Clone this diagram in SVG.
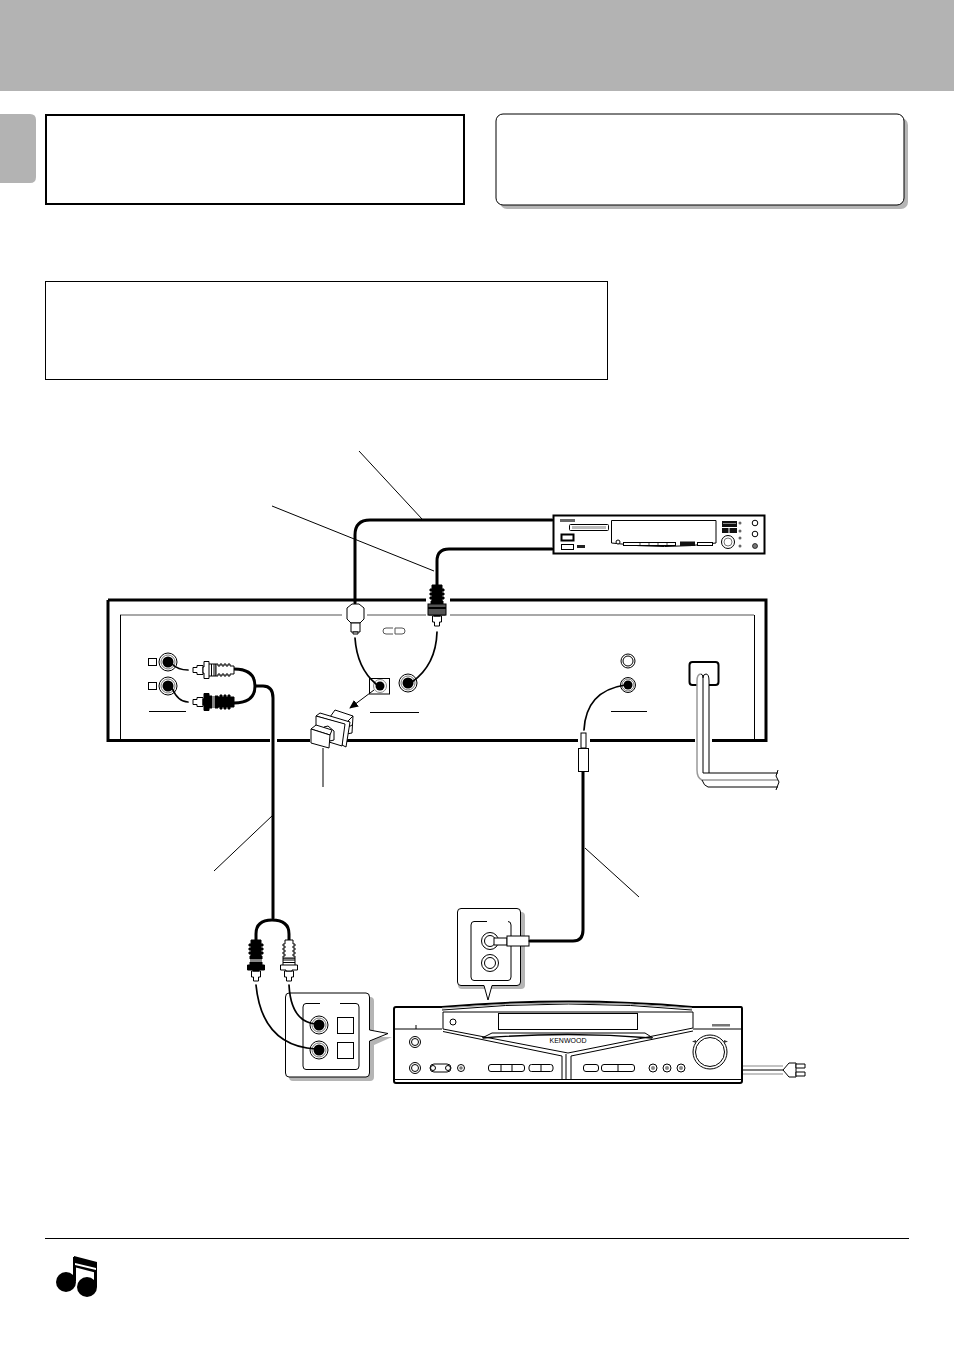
<svg xmlns="http://www.w3.org/2000/svg" xmlns:xlink="http://www.w3.org/1999/xlink" width="954" height="1350" viewBox="0 0 954 1350">
<style>
.k{fill:none;stroke:#000}
.w{fill:#fff;stroke:#000;stroke-width:1}
.b{fill:#000;stroke:#000;stroke-width:1}
.t1{stroke-width:1}
.t2{stroke-width:2}
.t3{stroke-width:3}
.cable{fill:none;stroke:#000;stroke-width:3;stroke-linecap:round}
.thin{fill:none;stroke:#000;stroke-width:1.700;stroke-linecap:round}
.lead{fill:none;stroke:#000;stroke-width:1}
.sh{fill:#b5b5b5}
.ctl{fill:#fff;stroke:#000;stroke-width:1}
</style>
<defs>
<g id="plugW">
<path class="w" d="M1,-2.500H5V-4.500H11V4.500H5V2.500H1Z"/>
<path class="w" d="M11,-3H12V-8.500H17V-6H24V6H17V8.500H12V3H11Z"/>
<path class="k t1" d="M17,-6V6M19.500,-6V6M22,-6V6"/>
<path class="w" d="M24,-6H26V-4H28V-6H30V-4H32V-6H34V-4H36V-6H38V-4H42V4H38V6H36V4H34V6H32V4H30V6H28V4H26V6H24Z"/>
</g>
<g id="plugB">
<path class="w" d="M1,-2.500H5V-4.500H11V4.500H5V2.500H1Z"/>
<path class="b" d="M11,-3H12V-8.500H17V-6H20V6H17V8.500H12V3H11Z"/>
<path d="M21,-6V6" stroke="#888" stroke-width="2"/>
<path class="b" d="M23,-6H26V-5H28V-7H30V-5H32V-7H34V-5H36V-7H38V-5H42V5H38V7H36V5H34V7H32V5H30V7H28V5H26V6H23Z"/>
</g>
<g id="jackB"><circle r="9" class="ctl"/><circle r="7" fill="none" stroke="#777" stroke-width="1"/><circle r="5.500" fill="#000"/></g>
<g id="jackS"><circle r="7.500" class="ctl"/><circle r="6" fill="none" stroke="#777" stroke-width="1"/><circle r="4.500" fill="#000"/></g>
<marker id="ah" markerWidth="9" markerHeight="8" refX="8" refY="4" orient="auto" markerUnits="userSpaceOnUse"><path d="M0,0L9,4L0,8Z" fill="#000"/></marker>
</defs>

<g id="header"><rect x="0" y="0" width="954" height="91" fill="#b3b3b3"/><path d="M0,114H30Q36,114 36,120V177Q36,183 30,183H0Z" fill="#b3b3b3"/></g>
<g id="box-1"><rect x="46" y="115" width="418" height="89" fill="#fff" class="k t2"/></g>
<g id="box-2"><rect x="500" y="118" width="408" height="91" rx="7" class="sh"/><rect x="496" y="114" width="408" height="91" rx="7" class="w"/></g>
<g id="box-3"><rect x="45.500" y="281.500" width="562" height="98" fill="#fff" class="k t1"/></g>

<g id="main-unit">
<path class="k t3" d="M108,600H766V740.500H712M695,740.500H590M578,740.500H346M310,740.500H277M270,740.500H108V600"/>
<path fill="none" stroke="#a8a8a8" stroke-width="2" d="M120,615H342M367,615H426M450,615H754"/>
<path class="k t1" d="M120.500,615V739M754.500,615V739"/>
<rect x="148.500" y="658.500" width="8" height="7" class="w"/><rect x="148.500" y="682.500" width="8" height="7" class="w"/>
<use xlink:href="#jackB" x="168" y="662"/><use xlink:href="#jackB" x="168" y="686"/>
<path fill="none" stroke="#555" stroke-width="1" d="M393,628H386Q383,628 383,631Q383,634 386,634H393M395,628H402Q405,628 405,631Q405,634 402,634H395Z"/>
<path class="k t1" d="M149,711.500H186M370,712.500H419M611,711.500H647"/>
<rect x="369.500" y="678.500" width="20" height="15.500" class="w"/>
<circle cx="380" cy="686" r="6.500" fill="none" stroke="#888"/><circle cx="380" cy="686" r="4.500"/>
<use xlink:href="#jackB" x="408" y="683"/>
<circle cx="628" cy="661" r="7" class="ctl"/><circle cx="628" cy="661" r="5" class="ctl"/>
<use xlink:href="#jackS" x="628" y="685"/>
<rect x="689.500" y="662" width="29" height="23" rx="3" fill="#fff" class="k t2"/>
</g>

<g id="power-cord">
<path d="M697,790V681Q697,674 701,674Q703,674 703,677Q703,674 706,674Q709,674 709,681V773H778V788H702Q697,786 697,775Z" fill="#fff"/>
<path fill="none" stroke="#999" stroke-width="1.500" d="M697,770V681Q697,674 701,674M697,770Q697,778 702,780H778"/>
<path class="k t1" d="M703,678V773H778M709,681Q709,674 706,674Q703,674 703,678M709,681V773M701,674Q703,674 703,678M702,780Q704,786 708,787H778M778,770L776,776L779,782L776,790"/>
</g>

<g id="md-deck">
<rect x="553.500" y="515.500" width="211" height="38" fill="#fff" class="k t2"/>
<rect x="560" y="519" width="15" height="3" fill="#666"/>
<rect x="569.500" y="524.500" width="39" height="6" rx="1" class="ctl"/><rect x="572" y="526" width="34" height="3" fill="#bbb"/>
<rect x="561.500" y="534.500" width="12" height="6" fill="#fff" class="k t2"/>
<rect x="561.500" y="544.500" width="12" height="5" class="w"/>
<rect x="577" y="545" width="8" height="3" fill="#222"/>
<path class="w" d="M611.500,520.500H716V543Q665,550 611.500,543Z"/>
<circle cx="618" cy="542" r="2" class="w"/>
<rect x="623.500" y="542.500" width="52" height="3" class="w"/><path d="M640,542V546M649,542V546M658,542V546M667,542V546" stroke="#000" stroke-width=".7"/>
<rect x="680" y="541.500" width="15" height="4.500" fill="#111"/><rect x="697.500" y="542.500" width="15" height="3" class="w"/>
<rect x="722" y="521" width="15" height="6" fill="#111"/><rect x="722" y="528" width="15" height="5" fill="#111"/><path d="M729,528V533" stroke="#fff"/><path d="M723,523.500H736" stroke="#888"/>
<circle cx="728" cy="542" r="6.500" class="w"/><circle cx="728" cy="542" r="4" fill="none" stroke="#777"/>
<circle cx="740" cy="523" r="1.500" fill="#666"/><circle cx="740" cy="531" r="1.500" fill="#666"/><circle cx="740" cy="538" r="1.500" fill="#666"/><circle cx="740" cy="546" r="1.500" fill="#666"/>
<circle cx="755" cy="523" r="2.800" class="w"/><circle cx="755" cy="534" r="2.800" class="w"/><circle cx="755" cy="546" r="2.500" fill="#777" stroke="#000" stroke-width=".7"/>
</g>

<g id="receiver">
<path fill="#fff" class="k t2" d="M396,1007H442Q570,996 692,1007H741Q742,1007 742,1009V1081Q742,1083 740,1083H396Q394,1083 394,1081V1009Q394,1007 396,1007Z"/>
<path class="k t1" d="M394,1029H442M693,1029H742M394,1079.500H742M442,1010Q570,998 692,1010"/>
<path fill="none" stroke="#999" stroke-width="1" d="M442,1008Q570,998 692,1008"/>
<path class="k t1" d="M443,1012H693V1028L568,1053L443,1029Z"/>
<path class="k t1" d="M443,1031.500L562,1056V1079M693,1031L571,1056V1079M566,1054V1079M482,1038L492,1033H645L653,1038"/>
<path fill="none" stroke="#000" stroke-width="1.300" d="M483,1038Q568,1031 652,1038"/>
<rect x="498.500" y="1013.500" width="139" height="16" class="w"/>
<circle cx="453" cy="1022" r="3" class="w"/>
<rect x="712" y="1024" width="18" height="2.500" fill="#777"/>
<path class="k t1" d="M416,1025V1029"/>
<text x="568" y="1042.500" text-anchor="middle" font-family="Liberation Sans, Arial, sans-serif" font-size="7" fill="#000">KENWOOD</text>
<circle cx="415" cy="1042" r="5.500" class="ctl"/><circle cx="415" cy="1042" r="3.500" class="ctl"/>
<circle cx="415" cy="1068" r="5.500" class="ctl"/><circle cx="415" cy="1068" r="3.500" class="ctl"/>
<rect x="430" y="1064" width="21" height="8" rx="4" class="ctl"/><circle cx="433" cy="1068" r="2.500" class="ctl"/><circle cx="448" cy="1068" r="2.500" class="ctl"/>
<circle cx="461" cy="1068" r="3.500" class="ctl"/><circle cx="461" cy="1068" r="1.800" fill="#777"/>
<rect x="488.500" y="1064.500" width="36" height="7" rx="2.500" class="ctl"/><path class="k t1" d="M501,1065V1071M512,1065V1071"/>
<rect x="529" y="1064.500" width="24" height="7" rx="2.500" class="ctl"/><path class="k t1" d="M541,1065V1071"/>
<rect x="583.500" y="1064.500" width="15" height="7" rx="2.500" class="ctl"/>
<rect x="601.500" y="1064.500" width="33" height="7" rx="2.500" class="ctl"/><path class="k t1" d="M618,1065V1071"/>
<circle cx="653" cy="1068" r="4" class="ctl"/><circle cx="653" cy="1068" r="2" fill="#888"/>
<circle cx="667" cy="1068" r="4" class="ctl"/><circle cx="667" cy="1068" r="2" fill="#888"/>
<circle cx="681" cy="1068" r="4" class="ctl"/><circle cx="681" cy="1068" r="2" fill="#888"/>
<circle cx="710" cy="1052" r="17" class="ctl"/><circle cx="710" cy="1052" r="14.500" class="ctl"/>
<path d="M696,1040L692,1041.500L696,1043Z M724,1040L728,1041.500L724,1043Z" fill="#333"/>
<path fill="none" stroke="#888" stroke-width="1.200" d="M743,1066H783M743,1074H783"/>
<path class="k t1" d="M743,1070H783"/>
<path class="w" d="M783,1070L789,1063H796V1077H789Z"/>
<path class="w" d="M796,1064H805V1068H796ZM796,1072H805V1076H796Z"/>
</g>

<g id="callout-left">
<path class="sh" d="M293,997H370Q374,997 374,1001V1037L392,1037L374,1045V1077Q374,1081 370,1081H293Q289,1081 289,1077V1001Q289,997 293,997Z"/>
<path class="w" d="M289,993H366Q369.500,993 369.500,997V1030L388,1033.500L369.500,1041V1073Q369.500,1077 366,1077H289Q285.500,1077 285.500,1073V997Q285.500,993 289,993Z"/>
<path class="k t1" d="M320,1003.500H306Q303,1003.500 303,1007V1066Q303,1069.500 306,1069.500H356Q359,1069.500 359,1066V1007Q359,1003.500 356,1003.500H340"/>
<use xlink:href="#jackB" x="319" y="1025"/><use xlink:href="#jackB" x="319" y="1050"/>
<rect x="337.500" y="1017.500" width="16" height="16" class="w"/><rect x="337.500" y="1042.500" width="16" height="16" class="w"/>
</g>
<g id="callout-top">
<path class="sh" d="M462,912H521Q525,912 525,916V985Q525,989 521,989H462Q458,989 458,985V916Q458,912 462,912Z"/>
<path class="w" d="M461,908.500H517Q520.500,908.500 520.500,912V982Q520.500,985.500 517,985.500H492L488,1000L484,985.500H461Q457.500,985.500 457.500,982V912Q457.500,908.500 461,908.500Z"/>
<path class="k t1" d="M487,921.500H474Q471,921.500 471,925V977Q471,980.500 474,980.500H508Q511,980.500 511,977V925Q511,921.500 508,921.500"/>
<circle cx="490" cy="941" r="8.500" class="ctl"/><circle cx="490" cy="941" r="5.500" class="ctl"/>
<circle cx="490" cy="963" r="8.500" class="ctl"/><circle cx="490" cy="963" r="5.500" class="ctl"/>
<path class="w" d="M494,938H507V945H494Z"/><rect x="507" y="936" width="22" height="10" class="w"/>
</g>

<g id="connectors">
<path class="cable" d="M552,520H370Q355,520 355,535V603"/>
<path class="cable" d="M552,549H449Q437,549 437,561V585"/>
<path class="cable" d="M234,669Q255,669 255,686Q255,703 234,703"/>
<path class="cable" d="M256,686H263Q273,686 273,698V918"/>
<path class="cable" d="M256,940V934Q256,920 272,920Q289,920 289,934V940"/>
<path class="cable" d="M530,941H573Q583,941 583,930V772"/>
<path class="thin" d="M172,664Q178,670 188,670"/>
<path class="thin" d="M172,688Q178,702 188,702"/>
<path class="thin" d="M355,638Q357,668 376,684"/>
<path class="thin" d="M437,632Q436,665 412,682"/>
<path class="thin" d="M625,685Q586,691 584,730"/>
<path class="thin" d="M289,985Q291,1022 316,1024"/>
<path class="thin" d="M256,985Q262,1046 316,1049"/>
<path class="lead" d="M359,451L422,519"/>
<path class="lead" d="M272,506L434,571"/>
<path class="lead" d="M273,815L214,871"/>
<path class="lead" d="M585,848L639,897"/>
<path class="lead" d="M323,748V787"/>
<path class="lead" marker-end="url(#ah)" d="M374,690L350,708"/>
</g>

<g id="optical-plug">
<path class="w" d="M352,604H359L364,608V619L360,623H351L347,619V608Z"/>
<path class="w" d="M351,623H360V632H351Z"/><path class="w" d="M353,632H358V634H353Z"/>
</g>
<g id="coax-plug-top"><rect x="426" y="596" width="24" height="24" fill="#fff"/><use xlink:href="#plugB" transform="translate(437,627) rotate(-90)"/><rect x="428" y="604" width="18" height="11" fill="#555" stroke="#000"/><path d="M428,608H446" stroke="#000" stroke-width="2"/></g>
<g id="rca-white-1"><use xlink:href="#plugW" transform="translate(192,670)"/></g>
<g id="rca-black-1"><use xlink:href="#plugB" transform="translate(192,702)"/></g>
<g id="rca-black-2"><use xlink:href="#plugB" transform="translate(256,982) rotate(-90)"/></g>
<g id="rca-white-2"><use xlink:href="#plugW" transform="translate(289,982) rotate(-90)"/></g>
<g id="mini-plug"><rect x="581" y="733" width="5" height="15" class="w"/><rect x="578.500" y="748.500" width="10" height="23" class="w"/></g>

<g id="optical-cap">
<path class="w" d="M330,717L335,710L353,716L352,733L346,734L347,723Z"/>
<path class="k t1" d="M347,722L353,716M347,728L352,725"/>
<path class="w" d="M316,716L320,713L350,722L346,747L342,745L343,724L316,716Z"/>
<path class="w" d="M316,716L345,724L342,746L316,738Z"/>
<path class="w" d="M324,727L328,726L334,731V740L330,741Z"/>
<path class="w" d="M311,729L316,725L332,730L330,735Z"/>
<path class="w" d="M311,729L330,735L329,748L311,743Z"/>
</g>

<g id="note">
<path class="k t1" d="M45,1238.500H909"/>
<circle cx="66" cy="1282" r="10"/><circle cx="87" cy="1287" r="10"/>
<rect x="73" y="1257" width="3" height="24"/><rect x="94" y="1262" width="3" height="25"/>
<path d="M74,1256L97,1262V1273L74,1267Z"/>
<path d="M75,1263L96,1268V1270L75,1265Z" fill="#fff"/>
</g>
</svg>
